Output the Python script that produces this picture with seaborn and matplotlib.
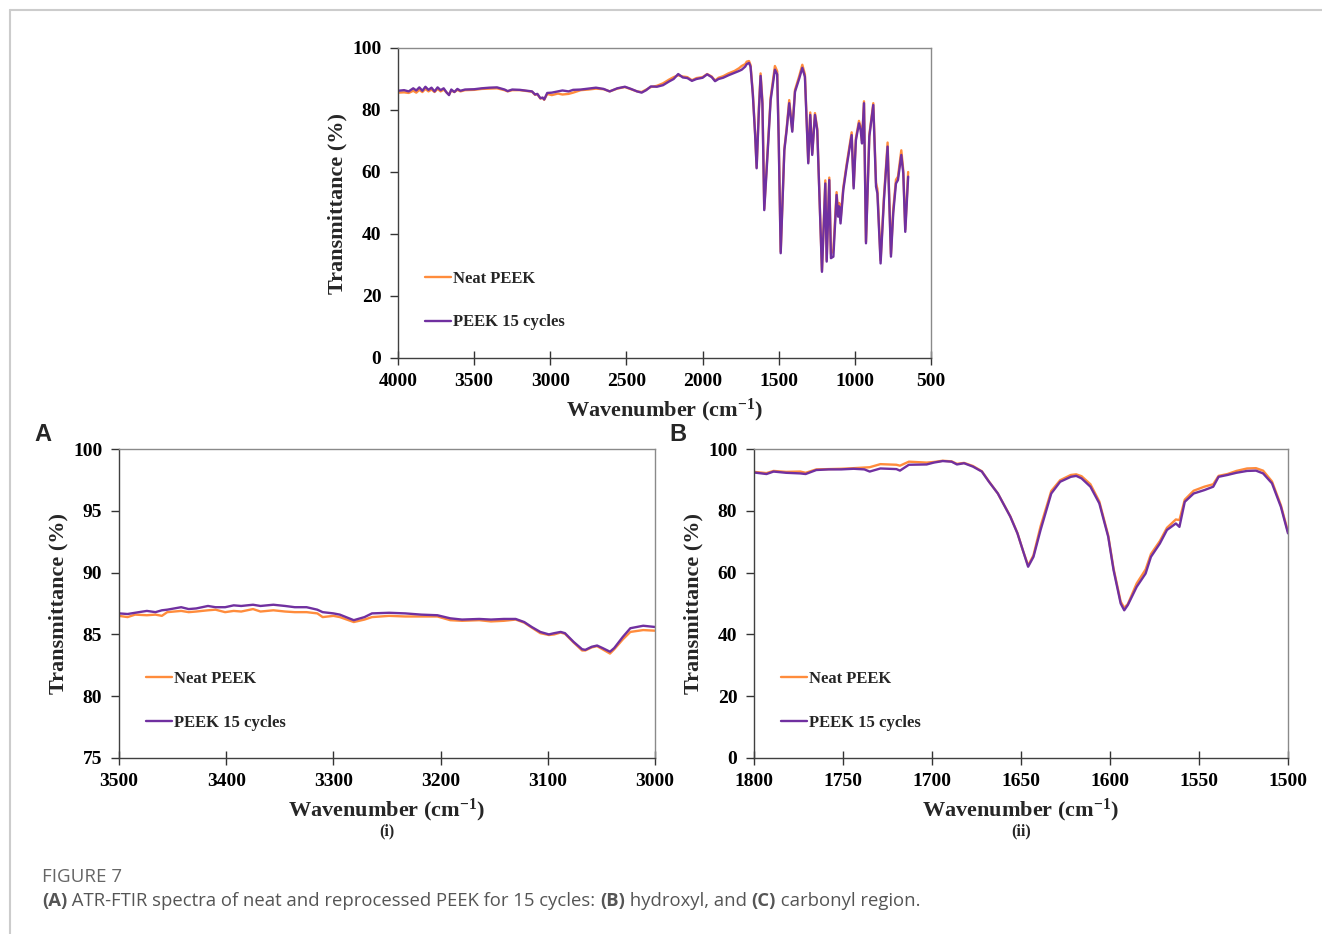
import seaborn as sns
import matplotlib.pyplot as plt
from matplotlib.lines import Line2D

# ---- full spectrum (top panel) ----
wn_full = [4000, 3960, 3930, 3900, 3880, 3860, 3840, 3820, 3800, 3780, 3760, 3740, 3720, 3700,
           3680, 3665, 3650, 3630, 3610, 3590, 3560, 3500, 3450, 3400, 3350, 3300, 3280, 3250,
           3200, 3150, 3120, 3100, 3085, 3065, 3050, 3040, 3020, 2990, 2950, 2920, 2880, 2850,
           2800, 2750, 2700, 2650, 2610, 2560, 2510, 2470, 2430, 2400, 2370, 2340, 2300, 2260,
           2220, 2190, 2160, 2130, 2100, 2070, 2040, 2000, 1970, 1940, 1918, 1895, 1865, 1830,
           1790, 1760, 1743, 1720, 1710, 1695, 1685, 1670, 1655, 1645, 1630, 1619, 1607, 1595,
           1580, 1562, 1553, 1525, 1510, 1500, 1487, 1463, 1448, 1431, 1411, 1393, 1365, 1345,
           1328, 1306, 1293, 1280, 1262, 1247, 1216, 1194, 1185, 1168, 1157, 1141, 1120, 1110,
           1103, 1094, 1076, 1054, 1021, 1008, 993, 973, 962, 953, 940, 927, 905, 879, 861, 852,
           831, 809, 785, 763, 748, 730, 717, 695, 682, 669, 650]
neat_full = [85.6, 85.7, 85.5, 86.2, 85.6, 86.5, 85.8, 86.8, 86.0, 86.6, 85.8, 86.8, 86.0, 86.6,
             85.6, 85.0, 86.3, 85.8, 86.5, 86.0, 86.4, 86.5, 86.8, 86.9, 87.0, 86.4, 86.0, 86.4,
             86.4, 86.1, 85.9, 84.9, 85.1, 83.7, 83.9, 83.3, 85.2, 84.8, 85.3, 85.0, 85.2, 85.6,
             86.4, 86.6, 86.9, 86.7, 86.0, 86.9, 87.4, 86.7, 86.0, 85.8, 86.6, 87.4, 87.8, 88.6,
             89.8, 90.6, 91.2, 90.8, 90.6, 89.6, 90.3, 90.6, 91.6, 90.8, 89.5, 90.4, 90.9, 91.8,
             92.6, 93.5, 94.2, 94.8, 95.6, 95.8, 94.5, 85.5, 72.5, 61.5, 81.0, 91.8, 83.0, 48.2,
             61.0, 76.7, 84.0, 94.2, 92.5, 71.0, 34.3, 67.5, 74.0, 83.2, 73.5, 86.5, 91.0, 94.6,
             91.5, 63.3, 79.2, 66.0, 79.0, 74.0, 28.2, 57.3, 31.6, 58.2, 33.5, 35.0, 53.5, 47.0,
             50.0, 44.5, 55.0, 62.5, 72.8, 55.5, 71.0, 76.5, 74.5, 70.0, 82.8, 37.5, 72.0, 82.2,
             56.5, 54.5, 31.5, 52.0, 69.5, 33.5, 48.0, 57.5, 58.5, 67.0, 60.5, 41.5, 60.0]
cyc15_full = [86.2, 86.4, 86.0, 87.0, 86.3, 87.3, 86.2, 87.5, 86.5, 87.2, 86.0, 87.3, 86.4, 87.0,
              85.6, 84.8, 86.6, 85.8, 86.8, 86.2, 86.6, 86.7, 87.0, 87.2, 87.3, 86.6, 86.1, 86.6,
              86.5, 86.2, 86.0, 85.0, 85.2, 83.8, 84.0, 83.4, 85.5, 85.6, 86.0, 86.3, 86.0, 86.5,
              86.6, 86.9, 87.2, 86.8, 86.0, 87.0, 87.5, 86.8, 86.0, 85.6, 86.4, 87.6, 87.5, 88.0,
              89.2, 90.0, 91.6, 90.5, 90.3, 89.4, 90.0, 90.4, 91.5, 90.6, 89.3, 90.0, 90.4, 91.2,
              92.0, 92.6, 93.0, 94.0, 94.8, 95.2, 94.0, 85.0, 72.0, 61.2, 80.0, 91.0, 82.0, 47.7,
              60.0, 75.7, 83.2, 93.0, 91.5, 70.0, 33.8, 67.0, 73.5, 82.2, 73.0, 85.9, 90.2, 93.6,
              90.7, 62.8, 78.4, 65.5, 78.4, 73.5, 27.8, 56.3, 31.1, 57.4, 32.2, 32.7, 52.6, 45.6,
              48.9, 43.4, 54.2, 61.7, 71.9, 54.7, 70.3, 75.7, 73.5, 69.2, 82.2, 37.0, 71.4, 81.6,
              55.3, 53.1, 30.5, 51.0, 68.2, 32.7, 46.7, 56.3, 57.4, 65.5, 59.6, 40.7, 58.5]

# ---- hydroxyl region (A) ----
wn_oh = [3500, 3492, 3485, 3474, 3466, 3460, 3455, 3442, 3435, 3428, 3417, 3410, 3401, 3393,
         3386, 3375, 3368, 3356, 3345, 3336, 3325, 3315, 3310, 3300, 3294, 3281, 3271, 3264,
         3248, 3233, 3218, 3203, 3191, 3180, 3164, 3153, 3141, 3130, 3122, 3115, 3107, 3099,
         3094, 3088, 3084, 3076, 3068, 3065, 3059, 3054, 3049, 3042, 3038, 3030, 3023, 3011, 3000]
neat_oh = [86.5, 86.4, 86.6, 86.55, 86.6, 86.5, 86.8, 86.9, 86.8, 86.85, 86.95, 87.0, 86.8, 86.9,
           86.85, 87.05, 86.85, 86.95, 86.85, 86.8, 86.8, 86.7, 86.4, 86.5, 86.4, 86.0, 86.2, 86.4,
           86.5, 86.45, 86.45, 86.45, 86.15, 86.1, 86.15, 86.05, 86.1, 86.2, 85.95, 85.55, 85.1, 84.95,
           85.0, 85.15, 85.05, 84.35, 83.7, 83.7, 83.95, 84.05, 83.8, 83.45, 83.8, 84.6, 85.2, 85.35, 85.3]
cyc15_oh = [86.7, 86.65, 86.75, 86.9, 86.8, 86.95, 87.0, 87.2, 87.05, 87.1, 87.3, 87.2, 87.2, 87.35,
            87.3, 87.4, 87.3, 87.4, 87.3, 87.2, 87.2, 87.0, 86.8, 86.7, 86.6, 86.15, 86.4, 86.7,
            86.75, 86.7, 86.6, 86.55, 86.3, 86.2, 86.25, 86.2, 86.25, 86.25, 86.0, 85.6, 85.2, 85.0,
            85.1, 85.2, 85.1, 84.4, 83.8, 83.75, 84.0, 84.1, 83.9, 83.6, 83.9, 84.8, 85.5, 85.7, 85.6]

# ---- carbonyl region (B) ----
wn_co = [1800, 1793, 1789, 1782, 1774, 1771, 1765, 1758, 1751, 1744, 1738, 1735, 1729, 1720,
         1718, 1713, 1703, 1699, 1694, 1689, 1686, 1682, 1677, 1672, 1668, 1663, 1656, 1652,
         1649, 1646, 1643, 1639, 1633, 1628, 1622, 1619, 1616, 1611, 1606, 1601, 1598, 1594,
         1592, 1590, 1585, 1580, 1577, 1572, 1568, 1563, 1561, 1558, 1553, 1547, 1542, 1539,
         1534, 1529, 1523, 1518, 1514, 1509, 1504, 1500]
neat_co = [92.6, 92.2, 92.9, 92.6, 92.7, 92.3, 93.4, 93.5, 93.6, 93.8, 94.0, 94.1, 95.1, 94.9,
           94.6, 95.9, 95.6, 95.8, 96.2, 96.0, 95.2, 95.5, 94.5, 92.8, 89.5, 85.6, 78.2, 72.8,
           67.3, 62.3, 65.6, 75.0, 86.4, 89.9, 91.6, 91.8, 91.2, 88.6, 83.0, 72.0, 61.3, 50.6,
           48.6, 49.8, 56.5, 61.0, 66.0, 70.2, 74.5, 77.2, 77.0, 83.6, 86.5, 87.8, 88.6, 91.3,
           91.9, 92.9, 93.7, 93.8, 93.0, 89.5, 81.8, 73.2]
cyc15_co = [92.4, 91.9, 92.7, 92.3, 92.1, 91.9, 93.2, 93.4, 93.4, 93.6, 93.4, 92.7, 93.7, 93.5,
            93.0, 94.9, 95.0, 95.6, 96.1, 95.9, 95.0, 95.4, 94.3, 92.7, 89.4, 85.6, 78.1, 72.7,
            67.3, 61.9, 65.1, 73.8, 85.6, 89.4, 91.0, 91.3, 90.5, 87.8, 82.4, 71.6, 60.8, 50.0,
            47.8, 49.5, 55.4, 59.7, 65.1, 69.4, 73.8, 75.9, 74.8, 82.9, 85.6, 86.7, 87.8, 91.0,
            91.6, 92.3, 92.9, 93.0, 92.1, 88.9, 81.3, 72.7]

series_names = ['Neat PEEK', 'PEEK 15 cycles']
series_colors = ['#FF8C3C', '#7030A0']

xticks_full = [4000, 3500, 3000, 2500, 2000, 1500, 1000, 500]
yticks_full = [0, 20, 40, 60, 80, 100]
xticks_oh = [3500, 3400, 3300, 3200, 3100, 3000]
yticks_oh = [75, 80, 85, 90, 95, 100]
xticks_co = [1800, 1750, 1700, 1650, 1600, 1550, 1500]
yticks_co = [0, 20, 40, 60, 80, 100]

caption_title = 'FIGURE 7'
caption_parts = [('(A)', 'bold'), (' ATR-FTIR spectra of neat and reprocessed PEEK for 15 cycles: ', 'normal'),
                 ('(B)', 'bold'), (' hydroxyl, and ', 'normal'), ('(C)', 'bold'), (' carbonyl region.', 'normal')]

sns.set_theme(style="ticks")
plt.rcParams['font.family'] = ['Liberation Serif', 'DejaVu Serif']
plt.rcParams['font.weight'] = 'bold'
plt.rcParams['mathtext.fontset'] = 'custom'
plt.rcParams['mathtext.rm'] = 'Liberation Serif:bold'
plt.rcParams['mathtext.it'] = 'Liberation Serif:bold'
plt.rcParams['mathtext.bf'] = 'Liberation Serif:bold'
plt.rcParams['mathtext.default'] = 'rm'

W, H = 1322, 934
fig = plt.figure(figsize=(W / 100, H / 100), dpi=100)


def px_axes(l, t, r, b):
    return fig.add_axes([l / W, 1 - b / H, (r - l) / W, (b - t) / H])


def draw_panel(ax, wn, neat, cyc, xlim, ylim, xt, yt):
    for vals, name, col in zip([neat, cyc], series_names, series_colors):
        sns.lineplot(x=wn, y=vals, ax=ax, color=col, label=name, linewidth=1.7,
                     estimator=None, sort=False)
    ax.set_xlim(*xlim)
    ax.set_ylim(*ylim)
    ax.set_xticks(xt)
    ax.set_yticks(yt)
    ax.tick_params(axis='x', direction='inout', length=10, width=1, colors='#333333',
                   labelsize=14, labelcolor='black', pad=6)
    ax.tick_params(axis='y', direction='out', length=6, width=1, colors='#333333',
                   labelsize=14, labelcolor='black', pad=6)
    for s in ['left', 'bottom']:
        ax.spines[s].set_color('#404040')
    for s in ['top', 'right']:
        ax.spines[s].set_color('#8a8a8a')
    for s in ax.spines.values():
        s.set_linewidth(1.0)
    ax.set_xlabel(r'Wavenumber (cm$^{-1}$)', fontsize=16, fontweight='bold')
    ax.set_ylabel('Transmittance (%)', fontsize=16, fontweight='bold')
    ax.xaxis.set_label_coords(0.5, -0.125)
    ax.yaxis.set_label_coords(-0.094, 0.5)
    ax.legend(loc='center left', bbox_to_anchor=(0.05, 0.185), frameon=False,
              handlelength=1.6, handletextpad=0.1, labelspacing=1.65, borderpad=0,
              borderaxespad=0, prop={'family': 'Liberation Serif', 'weight': 'bold', 'size': 12})


ax0 = px_axes(398, 48, 931, 358)
draw_panel(ax0, wn_full, neat_full, cyc15_full, (4000, 500), (0, 100), xticks_full, yticks_full)

axA = px_axes(119, 449, 655, 758)
draw_panel(axA, wn_oh, neat_oh, cyc15_oh, (3500, 3000), (75, 100), xticks_oh, yticks_oh)

axB = px_axes(754, 449, 1288, 758)
draw_panel(axB, wn_co, neat_co, cyc15_co, (1800, 1500), (0, 100), xticks_co, yticks_co)

for ax, sub in [(axA, '(i)'), (axB, '(ii)')]:
    ax.text(0.5, -0.237, sub, transform=ax.transAxes, ha='center', va='center',
            fontsize=11.5, fontweight='bold')

fig.text(43 / W, 1 - 435 / H, 'A', family='Liberation Sans', fontweight='bold', fontsize=17,
         ha='center', va='center')
fig.text(678 / W, 1 - 435 / H, 'B', family='Liberation Sans', fontweight='bold', fontsize=17,
         ha='center', va='center')

# page frame
fig.add_artist(Line2D([9.5 / W, 1], [1 - 9.5 / H, 1 - 9.5 / H], color='#cccccc', linewidth=1.5))
fig.add_artist(Line2D([9.5 / W, 9.5 / W], [0, 1 - 9.5 / H], color='#cccccc', linewidth=1.5))

# caption
fig.text(42 / W, 1 - 877 / H, caption_title, family='Open Sans', fontweight='normal',
         fontsize=13.5, color='#666666', va='center')
fig.canvas.draw()
rend = fig.canvas.get_renderer()
x = 42 / W
for txt, wt in caption_parts:
    t = fig.text(x, 1 - 901 / H, txt, family='Open Sans', fontweight=wt, fontsize=13.3,
                 color='#555555', va='center')
    x += t.get_window_extent(renderer=rend).width / W

fig.savefig('out.png', dpi=100)
